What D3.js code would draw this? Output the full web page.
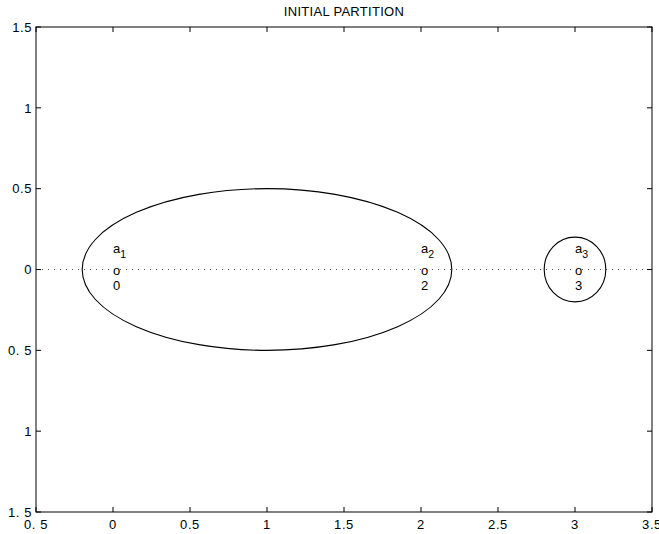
<!DOCTYPE html>
<html><head><meta charset="utf-8">
<script src="https://cdn.jsdelivr.net/npm/d3@7"></script>
<style>body{margin:0;background:#fff}svg{display:block}text{font-family:"Liberation Sans",Arial,sans-serif}</style>
</head><body><svg id="c" width="659" height="534"></svg>
<script>
const title = "INITIAL PARTITION";
const xTicks = [-0.5, 0, 0.5, 1, 1.5, 2, 2.5, 3, 3.5];
const xTickLabels = ["0. 5", "0", "0.5", "1", "1.5", "2", "2.5", "3", "3.5"];
const yTicks = [1.5, 1, 0.5, 0, -0.5, -1, -1.5];
const yTickLabels = ["1.5", "1", "0.5", "0", "0. 5", "1", "1. 5"];
const pointX = [0, 2, 3];
const pointY = [0, 0, 0];
const pointNames = ["a", "a", "a"];
const pointSubs = ["1", "2", "3"];
const pointValues = ["0", "2", "3"];
const ellipseCx = [1, 3];
const ellipseCy = [0, 0];
const ellipseRx = [1.2, 0.2];
const ellipseRy = [0.5, 0.2];

const svg = d3.select("#c");
const L = 36, R = 652, T = 27, B = 512;
const x = d3.scaleLinear().domain([-0.5, 3.5]).range([L, R]);
const y = d3.scaleLinear().domain([-1.5, 1.5]).range([B, T]);

// dotted zero line
svg.append("line").attr("x1", x(-0.5)).attr("x2", x(3.5)).attr("y1", y(0)).attr("y2", y(0))
  .attr("stroke", "#555").attr("stroke-width", 1).attr("stroke-dasharray", "1,5");

// ellipses
ellipseCx.forEach((cx, i) => {
  svg.append("ellipse").attr("cx", x(cx)).attr("cy", y(ellipseCy[i]))
    .attr("rx", x(cx + ellipseRx[i]) - x(cx)).attr("ry", y(0) - y(ellipseRy[i]))
    .attr("fill", "none").attr("stroke", "#000").attr("stroke-width", 1.1);
});

// points & labels
const fs = 13;
pointX.forEach((px, i) => {
  const g = svg.append("g");
  g.append("text").attr("x", x(px)).attr("y", y(pointY[i]) + 5).attr("font-size", fs).text("o");
  const t = g.append("text").attr("x", x(px)).attr("y", y(pointY[i] + 0.1)).attr("font-size", fs);
  t.append("tspan").text(pointNames[i]);
  t.append("tspan").attr("dy", 5).attr("font-size", 10.5).text(pointSubs[i]);
  g.append("text").attr("x", x(px)).attr("y", y(pointY[i] - 0.1) + 4.5).attr("font-size", fs).text(pointValues[i]);
});

// axes box
svg.append("rect").attr("x", L).attr("y", T).attr("width", R - L).attr("height", B - T)
  .attr("fill", "none").attr("stroke", "#000").attr("stroke-width", 1);

const tl = 5;
xTicks.forEach((v, i) => {
  svg.append("line").attr("x1", x(v)).attr("x2", x(v)).attr("y1", B).attr("y2", B - tl).attr("stroke", "#000");
  svg.append("line").attr("x1", x(v)).attr("x2", x(v)).attr("y1", T).attr("y2", T + tl).attr("stroke", "#000");
  svg.append("text").attr("x", x(v)).attr("y", B + 17).attr("text-anchor", "middle")
    .attr("font-size", 13).attr("letter-spacing", 0.6).text(xTickLabels[i]);
});
yTicks.forEach((v, i) => {
  svg.append("line").attr("x1", L).attr("x2", L + tl).attr("y1", y(v)).attr("y2", y(v)).attr("stroke", "#000");
  svg.append("line").attr("x1", R).attr("x2", R - tl).attr("y1", y(v)).attr("y2", y(v)).attr("stroke", "#000");
  svg.append("text").attr("x", L - 4).attr("y", y(v) + 4.7).attr("text-anchor", "end")
    .attr("font-size", 13).attr("letter-spacing", 0.6).text(yTickLabels[i]);
});

svg.append("text").attr("x", (L + R) / 2).attr("y", 15.5).attr("text-anchor", "middle")
  .attr("font-size", 13).attr("letter-spacing", 0.3).text(title);
</script></body></html>
